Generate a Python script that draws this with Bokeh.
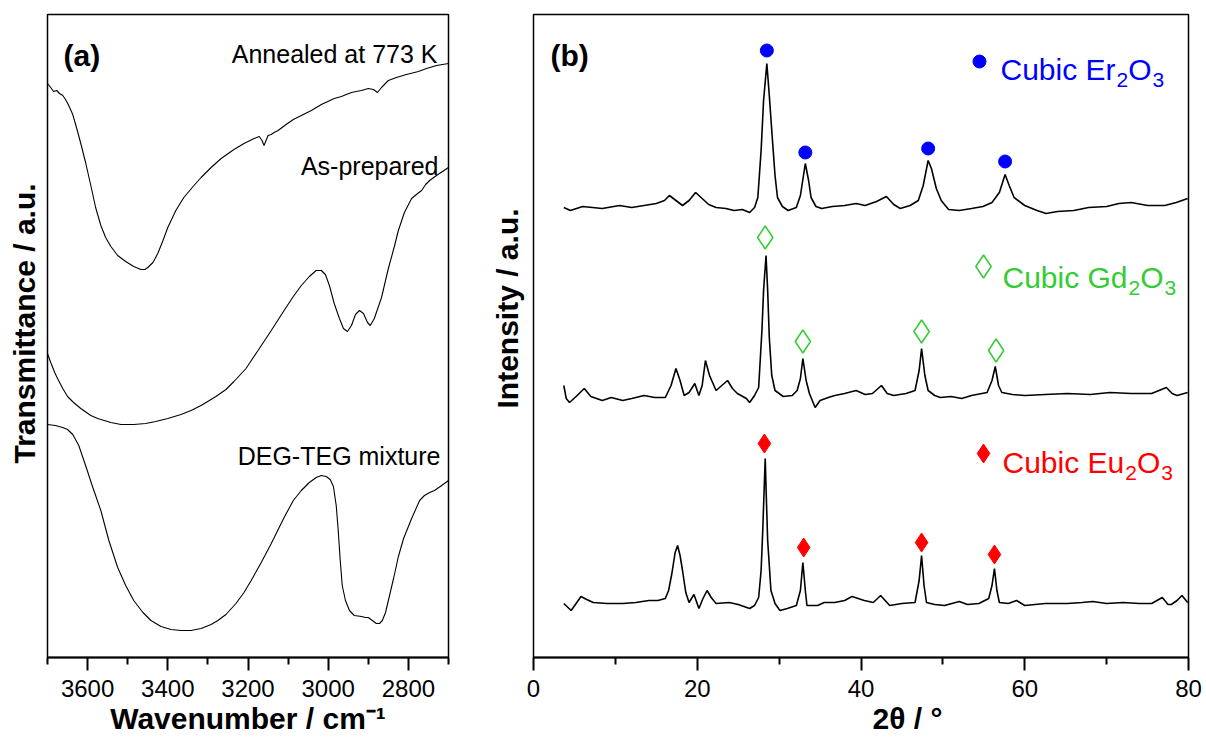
import numpy as np
from bokeh.plotting import figure
from bokeh.models import Range1d, Label, FixedTicker, Title
from bokeh.layouts import row
from bokeh.embed import file_html
from bokeh.resources import INLINE

# ---------------- DATA ----------------
# Panel (a): FTIR, wavenumber (cm-1) vs transmittance (a.u.)
annealed_wn = [3700, 3692, 3685, 3677, 3670, 3662, 3655, 3647, 3637, 3627, 3617, 3605, 3592, 3580,
               3567, 3555, 3542, 3525, 3505, 3485, 3467, 3457, 3450, 3437, 3425, 3412, 3400, 3380,
               3360, 3337, 3317, 3292, 3267, 3235, 3210, 3185, 3172, 3165, 3160, 3155, 3150, 3142,
               3135, 3125, 3105, 3087, 3067, 3042, 3017, 2985, 2967, 2955, 2942, 2930, 2917, 2900,
               2887, 2877, 2867, 2850, 2830, 2805, 2775, 2755, 2730, 2700]
annealed_t = [574, 570, 566, 567, 564, 562, 558, 552, 543, 529, 514, 495, 472, 450,
              432, 420, 411, 402, 396, 391, 388, 388, 390, 395, 404, 417, 430, 447,
              460, 471, 480, 490, 499, 508, 514, 519, 521, 517, 512, 517, 522, 523,
              525, 527, 533, 538, 542, 547, 553, 559, 561, 563, 565, 566, 567, 569,
              568, 565, 570, 577, 580, 583, 586, 589, 592, 594]

asprep_wn = [3700, 3692, 3682, 3675, 3662, 3650, 3635, 3617, 3592, 3575, 3542, 3517, 3485, 3455,
             3430, 3400, 3367, 3342, 3317, 3280, 3255, 3235, 3205, 3175, 3142, 3110, 3087, 3067,
             3047, 3030, 3017, 3007, 2997, 2985, 2972, 2962, 2952, 2942, 2932, 2922, 2912, 2902,
             2895, 2885, 2867, 2850, 2835, 2825, 2810, 2792, 2777, 2767, 2757, 2747, 2730, 2700]
asprep_t = [304, 295, 285, 279, 269, 261, 255, 249, 242, 239, 235, 233, 233, 234,
            236, 239, 243, 247, 252, 261, 268, 276, 289, 307, 327, 347, 361, 372,
            381, 387, 387, 383, 372, 354, 339, 329, 326, 332, 343, 347, 344, 335,
            332, 339, 360, 389, 411, 427, 445, 459, 464, 467, 473, 477, 482, 490]

degteg_wn = [3700, 3680, 3662, 3650, 3637, 3622, 3605, 3587, 3567, 3547, 3525, 3505, 3485, 3462,
             3442, 3417, 3392, 3367, 3342, 3317, 3292, 3275, 3255, 3230, 3210, 3192, 3167, 3142,
             3110, 3087, 3067, 3047, 3030, 3017, 3005, 2995, 2987, 2980, 2975, 2970, 2965, 2957,
             2947, 2935, 2917, 2907, 2900, 2890, 2880, 2872, 2865, 2857, 2850, 2837, 2825, 2812,
             2792, 2772, 2760, 2747, 2735, 2717, 2700]
degteg_t = [233, 232, 230, 228, 223, 212, 192, 170, 147, 117, 90, 72, 57, 45,
            37, 31, 28, 27, 27, 29, 33, 37, 43, 54, 65, 77, 95, 114,
            140, 157, 167, 175, 180, 182, 181, 178, 171, 152, 127, 97, 72, 57,
            47, 42, 41, 40, 40, 37, 34, 34, 37, 45, 57, 79, 101, 119,
            139, 157, 162, 165, 167, 172, 177]

ftir_labels = ["Annealed at 773 K", "As-prepared", "DEG-TEG mixture"]
ftir_ticks = [3600, 3400, 3200, 3000, 2800]
ftir_minor = [3700, 3500, 3300, 3100, 2900, 2700]

# Panel (b): XRD, 2theta (deg) vs intensity (a.u.)
er_2t = [3.7, 4.5, 6.0, 8.4, 10.5, 12.0, 13.5, 15.0, 16.0, 16.6, 17.4, 18.2, 19.0, 19.8, 20.6, 21.4,
         22.3, 23.5, 24.5, 25.5, 26.4, 27.0, 27.4, 27.8, 28.1, 28.5, 28.8, 29.1, 29.5, 29.8, 30.4,
         31.1, 32.1, 32.6, 33.2, 33.6, 33.9, 34.5, 35.2, 36.5, 38.0, 39.4, 40.5, 41.9, 43.1, 44.0,
         44.8, 46.0, 47.0, 47.6, 48.2, 48.6, 49.2, 49.8, 50.7, 52.0, 53.5, 54.9, 56.0, 56.9, 57.6,
         58.1, 58.7, 60.0, 61.5, 62.6, 64.0, 66.0, 67.8, 70.0, 71.5, 73.0, 75.0, 77.1, 78.5, 79.9]
er_int = [450, 447, 451, 449, 452, 450, 452, 454, 457, 462, 457, 452, 457, 465, 459, 453,
          450, 449, 447, 448, 445, 450, 460, 507, 557, 594, 562, 527, 482, 460, 451,
          447, 450, 462, 494, 477, 460, 451, 449, 451, 452, 454, 452, 456, 461, 453,
          449, 452, 457, 472, 497, 489, 469, 457, 448, 447, 449, 451, 455, 465, 483,
          472, 460, 452, 447, 444, 446, 447, 450, 451, 454, 455, 452, 452, 455, 459]

gd_2t = [3.7, 4.0, 4.4, 5.2, 6.2, 7.0, 8.4, 9.5, 10.9, 12.0, 13.5, 14.8, 16.1, 16.8, 17.4, 17.9,
         18.4, 19.0, 19.7, 20.2, 20.6, 21.0, 21.5, 22.3, 23.0, 23.7, 24.3, 24.9, 26.0, 26.4, 27.0,
         27.5, 27.9, 28.1, 28.4, 28.6, 28.8, 29.1, 29.5, 30.5, 31.6, 32.2, 32.6, 32.9, 33.3, 33.7,
         34.4, 35.0, 36.0, 36.8, 38.0, 39.4, 40.5, 41.4, 42.5, 43.2, 44.0, 45.5, 46.6, 47.1, 47.4,
         47.8, 48.2, 49.0, 49.7, 51.0, 52.3, 53.5, 55.4, 56.0, 56.4, 56.8, 57.2, 58.5, 60.0, 62.5,
         65.2, 68.0, 70.4, 73.0, 75.5, 77.3, 78.0, 78.6, 79.9]
gd_int = [272, 259, 255, 261, 269, 261, 257, 260, 257, 259, 262, 260, 260, 272, 289, 277,
          262, 265, 274, 262, 272, 297, 282, 267, 272, 277, 269, 264, 259, 255, 262,
          270, 327, 367, 402, 367, 320, 282, 267, 261, 262, 267, 279, 299, 277, 264,
          250, 257, 260, 262, 264, 267, 263, 264, 272, 264, 262, 264, 267, 287, 309,
          282, 267, 262, 260, 261, 259, 262, 265, 277, 291, 272, 265, 263, 262, 263,
          264, 263, 265, 264, 264, 270, 264, 262, 265]

eu_2t = [3.7, 4.6, 5.2, 5.8, 6.5, 7.3, 9.0, 10.9, 12.5, 14.1, 15.2, 16.1, 16.5, 16.9, 17.3, 17.6,
         17.9, 18.2, 18.6, 19.0, 19.6, 20.2, 20.7, 21.2, 21.7, 22.3, 23.9, 25.0, 26.4, 27.0, 27.5,
         27.8, 28.0, 28.3, 28.45, 28.6, 29.0, 29.5, 30.1, 31.0, 32.1, 32.6, 32.9, 33.2, 33.4, 34.7,
         35.5, 36.8, 38.0, 38.9, 40.4, 41.5, 42.4, 43.5, 45.0, 46.6, 47.1, 47.4, 47.7, 48.0, 49.0,
         50.2, 52.0, 53.0, 54.4, 55.6, 56.0, 56.3, 56.6, 56.9, 58.0, 59.0, 60.0, 62.5, 65.2, 67.0,
         68.3, 70.0, 72.0, 74.0, 75.5, 76.8, 77.5, 77.9, 78.6, 79.2, 79.9]
eu_int = [54, 47, 54, 61, 58, 55, 54, 54, 55, 57, 57, 59, 67, 84, 105, 112,
          102, 87, 65, 55, 63, 49, 59, 67, 60, 54, 55, 53, 49, 52, 60,
          87, 127, 199, 157, 117, 67, 54, 47, 49, 52, 67, 95, 67, 52, 52,
          55, 55, 57, 61, 57, 55, 62, 52, 54, 55, 77, 102, 72, 55, 53,
          52, 56, 53, 54, 59, 72, 89, 67, 55, 54, 57, 52, 54, 54, 55,
          56, 54, 55, 54, 54, 60, 53, 53, 57, 62, 55]

er_peaks = [28.5, 33.2, 48.2, 57.6]
er_mark = [607, 505, 509, 496]
gd_peaks = [28.3, 32.9, 47.4, 56.5]
gd_mark = [420, 316, 326, 307]
eu_peaks = [28.2, 33.0, 47.4, 56.3]
eu_mark = [214, 110, 115, 103]

xrd_ticks = [0, 20, 40, 60, 80]
xrd_minor = [10, 30, 50, 70]

# ---------------- STYLE / LAYOUT ----------------
FONT = "Liberation Sans"
H = 738
TOP, BOT = 14, 81
WA, WB = 480, 726
A_L, A_R = 47, WA - 448
B_L, B_R = 533 - WA, WA + WB - 1188

BLUE, GREEN, RED = "#0000FF", "#33CC33", "#FF0000"

# px -> data helpers for annotation placement
def ax(px): return 3700 - (px - 47) * 2.5
def ay(py): return 657 - py
def bx(px): return (px - 533) / (655.0 / 80.0)
def by(py): return 657 - py

ARIAL = {'C': .722, 'u': .556, 'b': .556, 'i': .222, 'c': .5, ' ': .278, 'E': .667, 'r': .333,
         'G': .778, 'd': .556, 'O': .778, '2': .556, '3': .556}

def tw(s, size):
    return sum(ARIAL.get(ch, .556) for ch in s) * size


def style_fig(p, ticks, minor):
    p.grid.visible = False
    p.yaxis.visible = False
    p.outline_line_color = "black"
    p.outline_line_width = 1.5
    p.outline_line_alpha = 1.0
    p.background_fill_color = "white"
    p.border_fill_color = "white"
    xa = p.xaxis[0]
    xa.ticker = FixedTicker(ticks=ticks, minor_ticks=minor)
    xa.axis_line_width = 2
    xa.axis_line_color = "black"
    xa.major_tick_line_width = 2
    xa.minor_tick_line_width = 2
    xa.major_tick_out = 13
    xa.major_tick_in = 0
    xa.minor_tick_out = 7
    xa.minor_tick_in = 0
    xa.major_label_text_font = FONT
    xa.major_label_text_font_size = "24px"
    xa.major_label_text_color = "black"
    xa.major_label_standoff = 9


def side_title(p, text, where, align="center", offset=0, standoff=0, valign="bottom"):
    p.add_layout(Title(text=text, align=align, offset=offset, standoff=standoff,
                       vertical_align=valign,
                       text_font=FONT, text_font_size="30px", text_font_style="bold",
                       text_color="black"), where)


def lab(p, x, y, text, size, style="normal", color="black", align="left"):
    p.add_layout(Label(x=x, y=y, text=text, text_font=FONT, text_font_size=f"{size}px",
                       text_font_style=style, text_color=color, text_align=align,
                       text_baseline="alphabetic"))

# ---------------- PANEL (a) ----------------
pa = figure(width=WA, height=H, x_range=Range1d(3700, 2700), y_range=Range1d(0, 643),
            output_backend="svg", toolbar_location=None,
            min_border_left=A_L, min_border_right=A_R, min_border_top=TOP, min_border_bottom=BOT)
style_fig(pa, ftir_ticks, ftir_minor)
for wn, t in [(annealed_wn, annealed_t), (asprep_wn, asprep_t), (degteg_wn, degteg_t)]:
    pa.line(wn, t, line_color="black", line_width=1.1)

lab(pa, ax(63), ay(55), "(a)", 30, "bold")
lab(pa, ax(436), ay(53), ftir_labels[0], 25, align="right")
lab(pa, ax(437), ay(165), ftir_labels[1], 25, align="right")
lab(pa, ax(439), ay(455), ftir_labels[2], 25, align="right")
side_title(pa, "Transmittance / a.u.", "left", align="left", offset=194, standoff=11,
           valign="middle")
side_title(pa, "Wavenumber / cm\u207b\u00b9", "below", offset=0, standoff=0)

# ---------------- PANEL (b) ----------------
pb = figure(width=WB, height=H, x_range=Range1d(0, 80), y_range=Range1d(0, 643),
            output_backend="svg", toolbar_location=None,
            min_border_left=B_L, min_border_right=B_R, min_border_top=TOP, min_border_bottom=BOT)
style_fig(pb, xrd_ticks, xrd_minor)
for tt, ii in [(er_2t, er_int), (gd_2t, gd_int), (eu_2t, eu_int)]:
    pb.line(tt, ii, line_color="black", line_width=1.6)

pb.scatter(er_peaks, er_mark, marker="circle", size=13, fill_color=BLUE, line_color=BLUE)
pb.scatter(gd_peaks, gd_mark, marker="diamond", size=23, fill_color=None, line_color=GREEN,
           line_width=1.5)
pb.scatter(eu_peaks, eu_mark, marker="diamond", size=19, fill_color=RED, line_color=RED)

# legend-like annotations
pb.scatter([bx(979)], [by(61)], marker="circle", size=13, fill_color=BLUE, line_color=BLUE)
pb.scatter([bx(983)], [by(266)], marker="diamond", size=23, fill_color=None, line_color=GREEN,
           line_width=1.5)
pb.scatter([bx(983)], [by(453)], marker="diamond", size=19, fill_color=RED, line_color=RED)


def formula(p, x0, base, head, el, color, size=30, sub=21):
    x = x0
    lab(p, bx(x), by(base), head + el, size, color=color)
    x += tw(head + el, size) + 1
    lab(p, bx(x), by(base + 10), "2", sub, color=color)
    x += tw("2", sub)
    lab(p, bx(x), by(base), "O", size, color=color)
    x += tw("O", size) + 1
    lab(p, bx(x), by(base + 10), "3", sub, color=color)


formula(pb, 1000, 69, "Cubic ", "Er", BLUE)
formula(pb, 1002, 277, "Cubic ", "Gd", GREEN)
formula(pb, 1002, 462, "Cubic ", "Eu", RED)

lab(pb, bx(550), by(55), "(b)", 30, "bold")
side_title(pb, "Intensity / a.u.", "left", align="left", offset=249, standoff=18,
           valign="middle")
side_title(pb, "2θ / °", "below", align="left", offset=339, standoff=0)

layout = row(pa, pb)
open("out.html", "w").write(file_html(layout, INLINE))
